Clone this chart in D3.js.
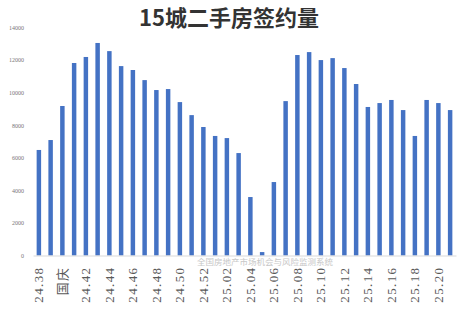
<!DOCTYPE html>
<html>
<head>
<meta charset="utf-8">
<script src="https://cdn.jsdelivr.net/npm/d3@7"></script>
<style>
  body { margin: 0; background: #fff; }
</style>
</head>
<body>
<div id="chart"></div>
<script>
// weekly categories (every other one is labelled on the axis)
const weeks = [
  "24.38", "24.39", "国庆", "24.41", "24.42", "24.43", "24.44", "24.45",
  "24.46", "24.47", "24.48", "24.49", "24.50", "24.51", "24.52", "25.01",
  "25.02", "25.03", "25.04", "25.05", "25.06", "25.07", "25.08", "25.09",
  "25.10", "25.11", "25.12", "25.13", "25.14", "25.15", "25.16", "25.17",
  "25.18", "25.19", "25.20", "25.21"
];
const deals = [
  6480, 7090, 9180, 11820, 12190, 13050, 12550, 11630,
  11390, 10770, 10160, 10220, 9420, 8620, 7890, 7340,
  7210, 6290, 3590, 210, 4510, 9480, 12310, 12490,
  12000, 12120, 11510, 10530, 9120, 9360, 9550, 8930,
  7340, 9550, 9360, 8930
];
const yTicks = [0, 2000, 4000, 6000, 8000, 10000, 12000, 14000];

const svgWidth = 474, svgHeight = 320;
const marginLeft = 33, marginRight = 18, marginTop = 27.5, marginBottom = 64.5;
const width = svgWidth - marginLeft - marginRight;
const height = svgHeight - marginTop - marginBottom;

const svg = d3.select("#chart").append("svg")
  .attr("width", svgWidth)
  .attr("height", svgHeight);

const xScale = d3.scaleBand()
  .domain(weeks)
  .range([0, width])
  .paddingInner(0.62)
  .paddingOuter(0.31);

const yScale = d3.scaleLinear()
  .domain([0, 14000])
  .range([height, 0]);

const chart = svg.append("g")
  .attr("transform", `translate(${marginLeft},${marginTop})`);

// title
svg.append("text")
  .attr("x", 229)
  .attr("y", 26)
  .attr("text-anchor", "middle")
  .style("font-family", "'Noto Sans CJK SC', sans-serif")
  .style("font-size", "22px")
  .style("font-weight", "bold")
  .attr("fill", "#333")
  .text("15城二手房签约量");

// bars
chart.selectAll("rect")
  .data(weeks)
  .join("rect")
  .attr("x", (d) => xScale(d))
  .attr("width", xScale.bandwidth())
  .attr("y", (d, i) => yScale(deals[i]))
  .attr("height", (d, i) => height - yScale(deals[i]))
  .attr("fill", "#4472C4");

// y axis (labels only)
chart.append("g")
  .attr("transform", "translate(-6,0)")
  .call(d3.axisLeft(yScale).tickValues(yTicks).tickSize(0).tickFormat(d3.format("d")))
  .call((g) => g.select(".domain").remove())
  .call((g) => g.selectAll("text")
    .attr("fill", "#777")
    .style("font-family", "'Liberation Serif', serif")
    .style("font-size", "6px"));

// x axis
chart.append("g")
  .attr("transform", `translate(0,${height})`)
  .call(d3.axisBottom(xScale)
    .tickValues(weeks.filter((d, i) => i % 2 === 0))
    .tickSize(0)
    .tickSizeOuter(0))
  .call((g) => g.select(".domain").attr("stroke", "#d9d9d9").attr("stroke-width", 1))
  .call((g) => g.selectAll("text")
    .attr("fill", "#595959")
    .attr("transform", "rotate(-90)")
    .attr("text-anchor", "end")
    .attr("x", -11)
    .attr("y", 0)
    .attr("dy", "0.35em")
    .style("letter-spacing", "1.4px")
    .style("font-family", "'Liberation Serif', 'Noto Sans CJK SC', serif")
    .style("font-size", "13px"));

// watermark
svg.append("text")
  .attr("x", 265)
  .attr("y", 265)
  .attr("text-anchor", "middle")
  .style("font-family", "'Noto Sans CJK SC', sans-serif")
  .style("font-size", "8.5px")
  .attr("fill", "#c8c8c8")
  .text("全国房地产市场机会与风险监测系统");
</script>
</body>
</html>
